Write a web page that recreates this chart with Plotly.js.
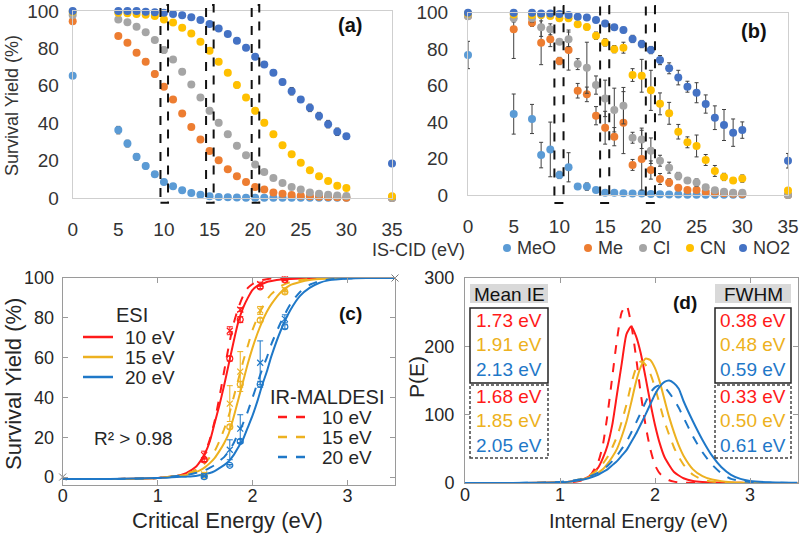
<!DOCTYPE html>
<html><head><meta charset="utf-8">
<script src="https://cdn.plot.ly/plotly-3.0.1.min.js"></script>
<style>html,body{margin:0;padding:0;background:#fff}#chart{width:800px;height:535px}</style>
</head><body><div id="chart"></div>
<script>
// ===== Panels (a)/(b): survival yield vs in-source CID energy =====
const compounds = ['MeO', 'Me', 'Cl', 'CN', 'NO2'];
const compoundColors = ['#5B9BD5', '#ED7D31', '#A5A5A5', '#FFC000', '#4472C4'];

const energyA = [0,5,6,7,8,9,10,11,12,13,14,15,16,17,18,19,20,21,22,23,24,25,26,27,28,29,30,35];
const esiMeO = [65.4,36.3,29.1,22,17.1,12.7,8.6,6.3,4.1,2.7,1.8,0.9,0.6,0.4,0.3,0.2,0.2,0.1,0.1,0.1,0.1,0.1,0.1,0.1,0.1,0.1,0.1,0];
const esiMe  = [94.5,86.6,83,77.7,72.9,66.3,59.5,52.7,45.2,38,31.3,25.2,20.2,15.4,11.6,8.6,5.9,4.5,3,2.3,1.6,1.2,0.9,0.7,0.5,0.4,0.2,0];
const esiCl  = [97.9,95.5,94,91.6,88.6,84.5,79.1,74.1,67.5,60.7,53.8,46.6,40.2,34.1,27.9,22.9,17.9,13.9,10.7,8,5.9,4.5,3,2.3,1.8,1.4,1.1,0];
const esiCN  = [99.6,99.1,98.8,98.4,98,97.3,95.5,93.8,91.1,88,83.6,78.8,72.9,67,60.4,53.8,46.6,40.2,34.1,28.2,23.4,18.8,14.8,11.6,9.1,6.6,5.4,0.9];
const esiNO2 = [100,100,100,100,99.6,99.3,99.1,98.4,97.7,96.6,95.2,93,90.7,87.7,84.1,80.4,75.5,71.4,67,62,57.1,52.7,48.2,43.8,39.5,35.4,33,18.4];
const esiMeOErr = [1,2,1.8,1.8,1.5,1,0.8,0.6,0.5,0.4,0.3,0.2,0.2,0.2,0.1,0.1,0.1,0.1,0.1,0.1,0.1,0.1,0.1,0.1,0.1,0.1,0.1,0];
const esiMeErr  = [0.8,1,1,1.5,1.5,1.5,1.2,1,1,1,1,1,0.8,0.6,0.5,0.5,0.4,0.3,0.3,0.2,0.2,0.2,0.1,0.1,0.1,0.1,0.1,0];
const esiClErr  = [0.5,0.8,0.8,1,1,1,1.5,1.5,1.5,1.5,1.5,1.5,1.5,1.5,1.5,1.2,1,0.8,0.6,0.5,0.4,0.3,0.3,0.2,0.2,0.2,0.2,0];
const esiCNErr  = [0.3,0.3,0.3,0.3,0.4,0.5,0.8,0.8,1,1,1,1,1.5,1.5,1.5,1.5,1.5,1.5,1.5,1.5,1,1,0.8,0.8,0.6,0.5,0.5,0.3];
const esiNO2Err = [0.3,0.3,0.3,0.3,0.3,0.3,0.5,0.5,0.5,0.5,0.8,1,1,1.2,1.5,1,1,1.5,1.5,1.5,2,1.5,2,2,2,2,1.5,1.5];

const energyB = [0,5,7,8,9,10,11,12,13,14,15,16,17,18,19,20,21,22,23,24,25,26,27,28,29,30,35];
const irMeO = [76.8,44.4,41.7,21.9,25,11,15.2,4.6,4.6,2.7,1.3,1.3,1,0.8,0.8,0.5,0.4,0.3,0.3,0.2,0.2,0.2,0.2,0.1,0.1,0.1,0];
const irMe  = [98.2,90.9,94.5,83.5,85.4,73.5,79.5,57.2,55.2,43.5,36.9,32,39.7,16.5,19.7,13.7,8.8,6.9,4,2.7,2.7,1.8,1.3,0.9,0.7,0.5,0];
const irCl  = [98,96.9,96.9,92,90.9,84.1,85.4,71.8,69.8,60.3,53,46.6,49,31.4,30.5,24.3,18.8,15,10.4,7.9,6.8,4.2,2.6,1.8,1.3,1.3,0];
const irCN  = [99.5,99,98.8,98.7,98.2,96.9,96.9,93.6,92.1,87.4,83.7,80,80.8,65.8,65.4,57.4,50,44.8,34.7,28.9,26.9,19.2,13.2,9.9,7.9,9,2.4];
const irNO2 = [100,100,100,99.6,99.6,99.3,98.7,97.8,97.3,96,94.1,92,90.5,85.6,82.8,79.5,74,69.5,64.4,59.4,56.1,49.9,42.4,38.4,34.2,35.6,18.8];
const irMeOErr = [7.5,11,8,7,15,2,8,1,2,1,0.5,0.5,0.3,0.3,0.3,0.3,0.2,0.2,0.2,0.1,0.1,0.1,0.1,0.1,0.1,0.1,0];
const irMeErr  = [1,16,2,12,4,2,11,4,4,5,9,5,17,3,17,5,3,2,1,1,1,0.5,0.5,0.3,0.3,0.3,0];
const irClErr  = [1,2,2,5,3,1,4,3,14,5,10,12,10,3,5,7,3,3,2,1.5,2,1,1,0.5,0.5,0.5,0];
const irCNErr  = [0.5,0.5,0.5,0.5,1,1,1,1,1.5,2,2,2,3,3.5,9,11,6,6,4,3,6,3,3,2,1.5,2,1];
const irNO2Err = [0.5,0.5,0.5,0.5,0.5,0.5,0.5,0.5,0.8,1,1,1,1.5,2,2,2,2.5,3,4,3,5.5,5,6.5,8.5,7.5,4.5,4];

const highlightEnergies = [10, 15, 20];

// ===== Panel (c): survival yield vs critical energy =====
const criticalEnergy = [1.49, 1.76, 1.87, 2.08, 2.34];   // MeO, Me, Cl, CN, NO2
const collisionLabels = ['10 eV', '15 eV', '20 eV'];
const levelColors = ['#FF1A1A', '#EDB120', '#1F78C8'];
const anchorE = [0, 3.5];
const anchorSY = [0, 100];

const fitEnergy = [0,0.5,1.0,1.1,1.2,1.3,1.4,1.45,1.5,1.55,1.6,1.65,1.7,1.75,1.8,1.85,1.9,1.95,2.0,2.05,2.1,2.15,2.2,2.3,2.4,2.5,2.6,2.7,2.8,3.0,3.2,3.5];
const fitEsi10 = [-1,-1,-0.5,0,0.5,2,5,8,12,18,27,36,46,57,68,78,85,90,94,96,97,98,98.5,99.2,99.5,99.7,99.8,99.9,100,100,100,100];
const fitEsi15 = [-1,-1,-0.5,0,0.5,1,2.5,3.5,5,7,9.5,13,17,22,30,39,48,57,65,72,78,83,87,93,96.5,98,99,99.5,99.8,100,100,100];
const fitEsi20 = [-1,-1,-0.5,-0.3,0,0.2,0.5,1,1.5,2,3,4.5,6,8,11,15,19,25,31,38,46,53,61,74,84,91,95,97.5,98.8,99.7,100,100];
const fitIr10  = [-1,-1,-0.5,-0.2,0.3,1,3.5,7,12,19,28,40,53,66,77,85,91,95,97,98.2,99,99.4,99.7,99.9,100,100,100,100,100,100,100,100];
const fitIr15  = [-1,-1,-0.5,0,0.5,1.5,3.5,5,7,10,13,18,24,31,40,49,58,66,74,80,85,89,92,96,98,99,99.5,99.7,99.9,100,100,100];
const fitIr20  = [-1,-1,-0.5,0,0.5,1,2,2.7,3.5,4.7,6,8,10,13,17,22,27,33,40,47,54,60,67,78,87,93,96.5,98.3,99.2,99.8,100,100];

// ===== Panel (d): internal energy distributions =====
const internalEnergy = [0,0.5,0.8,1.0,1.1,1.2,1.3,1.4,1.45,1.5,1.55,1.6,1.65,1.7,1.75,1.8,1.85,1.9,1.95,2.0,2.05,2.1,2.15,2.2,2.25,2.3,2.4,2.5,2.6,2.7,2.8,2.9,3.0,3.2,3.5];
const pEsi10 = [0,0,0.3,1,2,4,9,22,36,55,85,130,175,218,229,215,190,155,118,85,58,38,26,16,11,7,3,1.5,0.8,0.5,0.3,0.2,0.1,0,0];
const pEsi15 = [0,0,0.3,1,2,4,8,15,20,28,38,50,68,90,118,148,170,182,180,168,148,122,96,74,55,40,20,10,5,2.5,1.2,0.6,0.3,0,0];
const pEsi20 = [0,0,0.5,1,2,4,7,12,16,20,26,32,40,48,60,72,86,100,115,130,141,148,150,146,138,120,90,63,40,23,12,6,3,1,0.3];
const pIr10  = [0,0,0.2,0.5,1,3,8,30,55,100,155,210,250,260,232,185,131,85,50,26,14,8,4,2,1,0.5,0.2,0,0,0,0,0,0,0,0];
const pIr15  = [0,0,0.3,1,2,5,10,20,28,38,52,68,90,115,145,168,178,173,160,140,115,90,70,52,38,27,12,5,2,1,0.5,0.2,0.1,0,0];
const pIr20  = [0,0,0.5,1.5,3,5,9,15,20,25,32,40,50,60,74,88,103,118,132,140,143,140,132,122,110,96,68,45,27,14,6,3,1.5,0.5,0];

const meanIeEsi = ['1.73', '1.91', '2.13'];
const meanIeIr  = ['1.68', '1.85', '2.05'];
const fwhmEsi   = ['0.38', '0.48', '0.59'];
const fwhmIr    = ['0.33', '0.50', '0.61'];

// ---------------------------------------------------------------
const W = 800, H = 535;
const px = v => v / W, py = v => 1 - v / H;
const XL = 'Arial, "Liberation Sans", sans-serif';
const ML = '"Liberation Sans", Arial, sans-serif';

const esiSets = [esiMeO, esiMe, esiCl, esiCN, esiNO2];
const esiErrs = [esiMeOErr, esiMeErr, esiClErr, esiCNErr, esiNO2Err];
const irSets = [irMeO, irMe, irCl, irCN, irNO2];
const irErrs = [irMeOErr, irMeErr, irClErr, irCNErr, irNO2Err];

const traces = [];
function dotTrace(x, y, e, color, xa, ya, name) {
  return {type: 'scatter', mode: 'markers', x: x, y: y, name: name, xaxis: xa, yaxis: ya,
    showlegend: false, cliponaxis: false,
    marker: {color: color, size: 8},
    error_y: {type: 'data', array: e, visible: true, color: '#404040', thickness: 1, width: 2}};
}
compounds.forEach((c, i) => {
  traces.push(dotTrace(energyA, esiSets[i], esiErrs[i], compoundColors[i], 'x', 'y', c));
});
compounds.forEach((c, i) => {
  traces.push(dotTrace(energyB, irSets[i], irErrs[i], compoundColors[i], 'x2', 'y2', c));
});

// panel (c) fits
const esiFits = [fitEsi10, fitEsi15, fitEsi20];
const irFits = [fitIr10, fitIr15, fitIr20];
for (let k = 0; k < 3; k++) {
  traces.push({type: 'scatter', mode: 'lines', x: fitEnergy, y: esiFits[k], xaxis: 'x3', yaxis: 'y3',
    showlegend: false, line: {color: levelColors[k], width: 2, shape: 'spline', smoothing: 0.6}});
  traces.push({type: 'scatter', mode: 'lines', x: fitEnergy, y: irFits[k], xaxis: 'x3', yaxis: 'y3',
    showlegend: false, line: {color: levelColors[k], width: 2, dash: 'dash', shape: 'spline', smoothing: 0.6}});
}
// panel (c) points: survival yields at 10/15/20 eV taken from (a) and (b)
highlightEnergies.forEach((en, k) => {
  const ia = energyA.indexOf(en), ib = energyB.indexOf(en);
  traces.push({type: 'scatter', mode: 'markers', x: criticalEnergy,
    y: esiSets.map(s => s[ia]), xaxis: 'x3', yaxis: 'y3', showlegend: false, cliponaxis: false,
    marker: {symbol: 'circle-open', size: 6, color: levelColors[k], line: {width: 1.2}},
    error_y: {type: 'data', array: esiErrs.map(s => s[ia]), color: levelColors[k], thickness: 1, width: 3}});
  traces.push({type: 'scatter', mode: 'markers', x: criticalEnergy,
    y: irSets.map(s => s[ib]), xaxis: 'x3', yaxis: 'y3', showlegend: false, cliponaxis: false,
    marker: {symbol: 'x-thin-open', size: 6, color: levelColors[k], line: {width: 1.2, color: levelColors[k]}},
    error_y: {type: 'data', array: irErrs.map(s => s[ib]), color: levelColors[k], thickness: 1, width: 3}});
});
traces.push({type: 'scatter', mode: 'markers', x: anchorE, y: anchorSY, xaxis: 'x3', yaxis: 'y3',
  showlegend: false, cliponaxis: false,
  marker: {symbol: 'x-thin-open', size: 7, color: '#777', line: {width: 1, color: '#777'}}});

// panel (d) distributions
const esiP = [pEsi10, pEsi15, pEsi20];
const irP = [pIr10, pIr15, pIr20];
for (let k = 0; k < 3; k++) {
  traces.push({type: 'scatter', mode: 'lines', x: internalEnergy, y: esiP[k], xaxis: 'x4', yaxis: 'y4',
    showlegend: false, line: {color: levelColors[k], width: 2, shape: 'spline', smoothing: 0.6}});
  traces.push({type: 'scatter', mode: 'lines', x: internalEnergy, y: irP[k], xaxis: 'x4', yaxis: 'y4',
    showlegend: false, line: {color: levelColors[k], width: 2, dash: 'dash', shape: 'spline', smoothing: 0.6}});
}

// ---------------- axes ----------------
const excelAxis = (dom, range, dtick, standoff) => ({
  domain: dom, range: range, tickmode: 'linear', tick0: 0, dtick: dtick, showgrid: false, zeroline: false,
  showline: true, mirror: true, linecolor: '#cfcfcf', linewidth: 1, ticks: '',
  ticklabelstandoff: standoff, tickfont: {family: XL, size: 19, color: '#333'}, fixedrange: true
});
const matAxis = (dom, range, dtick, standoff) => ({
  domain: dom, range: range, tickmode: 'linear', tick0: 0, dtick: dtick, showgrid: false, zeroline: false,
  showline: true, mirror: 'ticks', linecolor: '#9a9a9a', linewidth: 1, ticks: 'inside', ticklen: 5,
  tickcolor: '#9a9a9a', ticklabelstandoff: standoff, tickfont: {family: ML, size: 18, color: '#262626'}, fixedrange: true
});

const layout = {
  width: W, height: H, margin: {l: 0, r: 0, t: 0, b: 0}, paper_bgcolor: '#fff', plot_bgcolor: '#fff',
  showlegend: false,
  xaxis:  Object.assign(excelAxis([px(72.7), px(392)], [0, 35], 5, 14), {anchor: 'y'}),
  yaxis:  Object.assign(excelAxis([py(198), py(11)], [0, 100], 20, 9), {anchor: 'x'}),
  xaxis2: Object.assign(excelAxis([px(468), px(788)], [0, 35], 5, 14), {anchor: 'y2'}),
  yaxis2: Object.assign(excelAxis([py(195), py(12.7)], [0, 100], 20, 15), {anchor: 'x2'}),
  xaxis3: Object.assign(matAxis([px(62.7), px(395)], [0, 3.5], 1, -6), {anchor: 'y3'}),
  yaxis3: Object.assign(matAxis([py(485), py(278)], [-4, 100], 20, 4), {anchor: 'x3'}),
  xaxis4: Object.assign(matAxis([px(465), px(797.5)], [0, 3.5], 1, -5), {anchor: 'y4'}),
  yaxis4: Object.assign(matAxis([py(483), py(278)], [0, 300], 100, 6), {anchor: 'x4'}),
  shapes: [], annotations: []
};

// dashed highlight boxes in (a) and (b)
highlightEnergies.forEach(en => {
  layout.shapes.push({type: 'rect', xref: 'x domain', yref: 'y domain', x0: (en - 0.38) / 35, x1: (en + 0.45) / 35,
    y0: -0.026, y1: 1.032, line: {color: '#111', width: 2, dash: 'dash'}});
  layout.shapes.push({type: 'rect', xref: 'x2 domain', yref: 'y2 domain', x0: (en - 0.55) / 35, x1: (en + 0.45) / 35,
    y0: -0.044, y1: 1.037, line: {color: '#111', width: 2, dash: 'dash'}});
});

const ann = (x, y, text, size, opts) => Object.assign({xref: 'paper', yref: 'paper', x: px(x), y: py(y),
  text: text, showarrow: false, xanchor: 'center', yanchor: 'middle',
  font: {family: ML, size: size, color: '#262626'}}, opts || {});

// panel labels
layout.annotations.push(ann(350, 25, '<b>(a)</b>', 20, {font: {family: XL, size: 20, color: '#111'}}));
layout.annotations.push(ann(754, 31, '<b>(b)</b>', 20, {font: {family: XL, size: 20, color: '#111'}}));
layout.annotations.push(ann(350, 313, '<b>(c)</b>', 19, {font: {family: ML, size: 19, color: '#111'}}));
layout.annotations.push(ann(685, 302, '<b>(d)</b>', 19, {font: {family: ML, size: 19, color: '#111'}}));

// axis titles
layout.annotations.push(ann(12, 106, 'Survival Yield (%)', 18, {textangle: -90, font: {family: XL, size: 18, color: '#333'}}));
layout.annotations.push(ann(418, 250, 'IS-CID (eV)', 18, {font: {family: XL, size: 18, color: '#333'}}));
layout.annotations.push(ann(14, 384, 'Survival Yield (%)', 22, {textangle: -90}));
layout.annotations.push(ann(228, 520, 'Critical Energy (eV)', 22));
layout.annotations.push(ann(416, 377, 'P(E)', 21, {textangle: -90}));
layout.annotations.push(ann(638, 521, 'Internal Energy (eV)', 20));

// legend of (a)/(b)
const legendDotX = [507, 588, 643, 690, 743];
compounds.forEach((c, i) => {
  const cx = legendDotX[i];
  layout.shapes.push({type: 'circle', xref: 'paper', yref: 'paper', x0: px(cx - 4), x1: px(cx + 4),
    y0: py(248 + 4), y1: py(248 - 4), fillcolor: compoundColors[i], line: {width: 0}});
  layout.annotations.push(ann(cx + 8, 248, c, 18, {xanchor: 'left', font: {family: XL, size: 18, color: '#333'}}));
});

// legend of (c)
layout.annotations.push(ann(132, 315, 'ESI', 20));
layout.annotations.push(ann(327, 397, 'IR-MALDESI', 20));
layout.annotations.push(ann(133, 438, 'R² &gt; 0.98', 19));
collisionLabels.forEach((lab, k) => {
  const ys = 337 + 20 * k, yd = 417 + 20 * k;
  layout.shapes.push({type: 'line', xref: 'paper', yref: 'paper', x0: px(83), x1: px(113), y0: py(ys), y1: py(ys),
    line: {color: levelColors[k], width: 2.5}});
  layout.annotations.push(ann(123, ys, lab, 19, {xanchor: 'left'}));
  layout.shapes.push({type: 'line', xref: 'paper', yref: 'paper', x0: px(278), x1: px(308), y0: py(yd), y1: py(yd),
    line: {color: levelColors[k], width: 2.5, dash: 'dash'}});
  layout.annotations.push(ann(320, yd, lab, 19, {xanchor: 'left'}));
});

// text boxes in (d)
[[470, 548, 'Mean IE', meanIeEsi, meanIeIr], [715, 791, 'FWHM', fwhmEsi, fwhmIr]].forEach(b => {
  const [x0, x1, head, solidVals, dashVals] = b;
  const cx = (x0 + x1) / 2;
  layout.shapes.push({type: 'rect', xref: 'paper', yref: 'paper', x0: px(x0), x1: px(x1), y0: py(303), y1: py(284),
    fillcolor: '#d9d9d9', line: {width: 0}});
  layout.annotations.push(ann(cx, 294, head, 19, {font: {family: ML, size: 19, color: '#111'}}));
  layout.shapes.push({type: 'rect', xref: 'paper', yref: 'paper', x0: px(x0), x1: px(x1), y0: py(383), y1: py(308),
    line: {color: '#222', width: 1.5}});
  layout.shapes.push({type: 'rect', xref: 'paper', yref: 'paper', x0: px(x0), x1: px(x1), y0: py(458), y1: py(385),
    line: {color: '#444', width: 1.5, dash: '3px,2px'}});
  solidVals.forEach((v, k) => layout.annotations.push(ann(cx, 320 + 24.5 * k, v + ' eV', 19,
    {font: {family: ML, size: 19, color: levelColors[k]}})));
  dashVals.forEach((v, k) => layout.annotations.push(ann(cx, 396 + 24.5 * k, v + ' eV', 19,
    {font: {family: ML, size: 19, color: levelColors[k]}})));
});

Plotly.newPlot('chart', traces, layout, {staticPlot: true, displayModeBar: false});
</script>
</body></html>
